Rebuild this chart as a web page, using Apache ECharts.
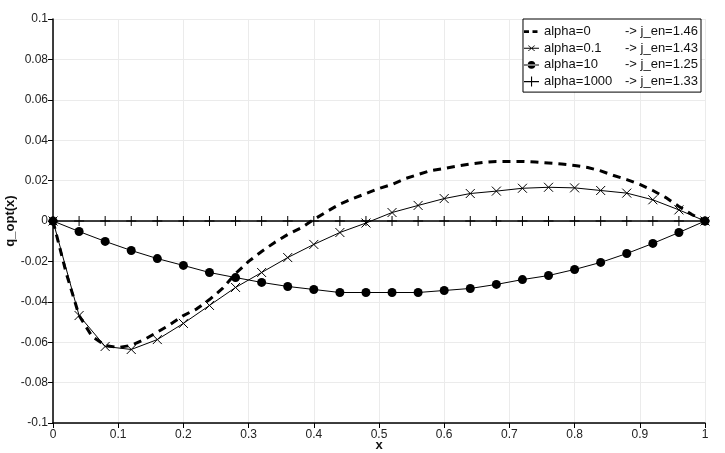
<!DOCTYPE html>
<html><head><meta charset="utf-8">
<script src="https://cdn.jsdelivr.net/npm/echarts@6/dist/echarts.min.js"></script>
<style>html,body{margin:0;padding:0;background:#fff}#c{width:725px;height:453px}</style>
</head><body><div id="c"></div>
<script>
// x positions of the marked samples
const xMarked = [0,0.04,0.08,0.12,0.16,0.2,0.24,0.28,0.32,0.36,0.4,0.44,0.48,0.52,0.56,0.6,0.64,0.68,0.72,0.76,0.8,0.84,0.88,0.92,0.96,1];
const alpha01 = [0,-0.0468,-0.0621,-0.0636,-0.0587,-0.0507,-0.0418,-0.0329,-0.0255,-0.0181,-0.0116,-0.0057,-0.001,0.0042,0.0077,0.0111,0.0136,0.0148,0.0162,0.0167,0.0164,0.0151,0.0138,0.0105,0.0055,0];
const alpha10 = [0,-0.0052,-0.0101,-0.0146,-0.0186,-0.022,-0.0255,-0.028,-0.0304,-0.0324,-0.0339,-0.0354,-0.0354,-0.0354,-0.0354,-0.0344,-0.0334,-0.0314,-0.029,-0.027,-0.024,-0.0205,-0.0161,-0.0111,-0.0057,0];
const alpha1000 = [0,0,0,0,0,0,0,0,0,0,0,0,0,0,0,0,0,0,0,0,0,0,0,0,0,0];
// x positions of the dashed (unmarked) curve
const xDense = [0,0.02,0.04,0.06,0.08,0.1,0.12,0.14,0.16,0.18,0.2,0.22,0.24,0.26,0.28,0.3,0.32,0.34,0.36,0.38,0.4,0.42,0.44,0.46,0.48,0.5,0.52,0.54,0.56,0.58,0.6,0.62,0.64,0.66,0.68,0.7,0.72,0.74,0.76,0.78,0.8,0.82,0.84,0.86,0.88,0.9,0.92,0.94,0.96,0.98,1];
const alpha0 = [0,-0.0255,-0.0468,-0.0572,-0.0616,-0.0626,-0.0616,-0.0587,-0.055,-0.0512,-0.0468,-0.0436,-0.0389,-0.0334,-0.026,-0.02,-0.0151,-0.0106,-0.0067,-0.0035,0.0007,0.0047,0.0084,0.0111,0.0136,0.0161,0.0181,0.021,0.023,0.025,0.026,0.0272,0.0282,0.029,0.0295,0.0295,0.0295,0.0292,0.0287,0.0282,0.0275,0.0265,0.0248,0.0225,0.0205,0.0181,0.0151,0.0116,0.0072,0.0032,0];
const seriesNames = ['alpha=0','alpha=0.1','alpha=10','alpha=1000'];
const jEn = ['1.46','1.43','1.25','1.33'];

const FONT = 'Liberation Sans';
const pair = (xs, ys) => xs.map((x,i)=>[x, ys[i]]);
// legend icons (15x12 box, tiny corner rects pin the bounding box)
const PIN = 'M0,0h0.05v0.05h-0.05z M15,12h-0.05v-0.05h0.05z ';
const icons = [
  'path://' + PIN + 'M0,4.8h5v2.6h-5z M8.5,4.8h5v2.6h-5z',
  'path://' + PIN + 'M0,5.6h15v0.9h-15z M3.8,3.2L4.8,3.2L11.2,8.8L10.2,8.8z M10.2,3.2L11.2,3.2L4.8,8.8L3.8,8.8z',
  'path://' + PIN + 'M0,5.5h15v1h-15z M7.5,2.2A3.8,3.8 0 1,0 7.51,2.2z',
  'path://' + PIN + 'M0,5.4h15v1.2h-15z M7,1h1.1v10h-1.1z'
];
const chart = echarts.init(document.getElementById('c'), null, {renderer:'canvas'});
const axisLine = {show:true,onZero:false,lineStyle:{color:'#000',width:1.5}};
const axisTick = {show:true,inside:false,length:5,lineStyle:{color:'#000'}};
const splitLine = {show:true,lineStyle:{color:'#ebebeb',width:1}};
const nameTextStyle = {color:'#111',fontFamily:FONT,fontSize:13,fontWeight:'bold'};
const fmt = v => String(parseFloat(v.toFixed(2)));
chart.setOption({
  animation:false,
  backgroundColor:'#fff',
  grid:{left:53,right:20,top:19,bottom:30,containLabel:false,outerBoundsMode:'none'},
  xAxis:{type:'value',min:0,max:1,interval:0.1,name:'x',nameLocation:'middle',nameGap:16,nameMoveOverlap:false,
    axisLine,axisTick,splitLine,nameTextStyle,
    axisLabel:{color:'#222',fontFamily:FONT,fontSize:12,margin:6,formatter:fmt}},
  yAxis:{type:'value',min:-0.1,max:0.1,interval:0.02,name:'q_opt(x)',nameLocation:'middle',nameGap:36,nameMoveOverlap:false,
    axisLine,axisTick,splitLine,nameTextStyle,
    axisLabel:{color:'#222',fontFamily:FONT,fontSize:12,margin:5,formatter:fmt}},
  legend:{
    orient:'vertical',right:24,top:19,
    backgroundColor:'#fff',borderColor:'#000',borderWidth:1,padding:[6,3,4,1],
    itemWidth:15,itemHeight:12,itemGap:3.7,
    data:seriesNames.map((n,i)=>({name:n,icon:icons[i],itemStyle:{color:'#000',borderWidth:0}})),
    textStyle:{color:'#111',fontFamily:FONT,fontSize:13,
      rich:{a:{width:81,fontFamily:FONT,fontSize:13,color:'#111'},b:{fontFamily:FONT,fontSize:13,color:'#111'}}},
    formatter:name=>'{a|'+name+'}{b|-> j_en='+jEn[seriesNames.indexOf(name)]+'}'
  },
  series:[
    {name:seriesNames[1],type:'line',data:pair(xMarked,alpha01),symbol:'path://M0,0L10,10M10,0L0,10',symbolSize:9,
      itemStyle:{color:'#000',borderColor:'#000',borderWidth:1},lineStyle:{color:'#000',width:1},z:3},
    {name:seriesNames[2],type:'line',data:pair(xMarked,alpha10),symbol:'circle',symbolSize:9,
      itemStyle:{color:'#000'},lineStyle:{color:'#000',width:1},z:3},
    {name:seriesNames[3],type:'line',data:pair(xMarked,alpha1000),symbol:'path://M5,0L5,10M0,5L10,5',symbolSize:10,
      itemStyle:{color:'#000',borderColor:'#000',borderWidth:1},lineStyle:{color:'#000',width:1.5},z:3},
    {name:seriesNames[0],type:'line',data:pair(xDense,alpha0),symbol:'none',showSymbol:false,
      itemStyle:{color:'#000'},lineStyle:{color:'#000',width:3,type:[8,6]},z:4}
  ]
});
</script></body></html>
